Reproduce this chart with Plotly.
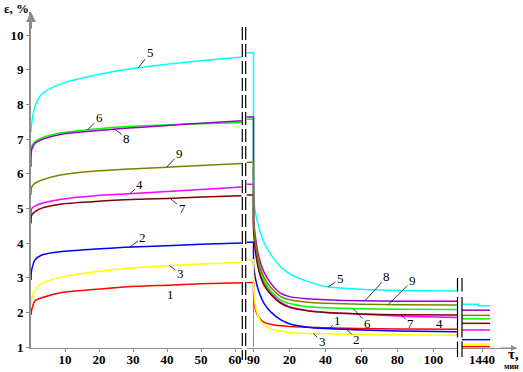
import numpy as np
import plotly.graph_objects as go

# ---------------- data ----------------
T_LOAD = [0, 0.2, 1.2, 3.2, 9, 19, 27.5, 40, 50, 62.5]
T_HOLD = [-10, 0]
T_UNLOAD = [0, 1, 3, 6, 10, 15, 20, 30, 40, 60, 80, 113]
T_DAY = [1420, 1436, 1448]

CURVE_NAMES = ["1", "2", "3", "4", "5", "6", "7", "8", "9"]
CURVE_COLORS = ["#FF0000", "#0000FF", "#FFFF00", "#FF00FF", "#00FFFF",
                "#00FF00", "#800000", "#9900CC", "#808000"]

load_1 = [1.93, 2.08, 2.34, 2.43, 2.58, 2.67, 2.74, 2.79, 2.83, 2.86]
load_2 = [2.94, 3.23, 3.52, 3.66, 3.76, 3.83, 3.88, 3.93, 3.97, 4.01]
load_3 = [2.22, 2.40, 2.65, 2.84, 3.03, 3.18, 3.27, 3.35, 3.40, 3.45]
load_4 = [4.76, 5.00, 5.07, 5.15, 5.27, 5.37, 5.42, 5.49, 5.55, 5.62]
load_5 = [7.20, 7.45, 7.95, 8.30, 8.60, 8.85, 9.00, 9.16, 9.26, 9.37]
load_6 = [6.55, 6.80, 6.93, 7.04, 7.18, 7.29, 7.36, 7.41, 7.44, 7.48]
load_7 = [4.57, 4.81, 4.91, 5.01, 5.13, 5.20, 5.25, 5.29, 5.33, 5.37]
load_8 = [6.20, 6.70, 6.88, 6.99, 7.14, 7.24, 7.31, 7.39, 7.46, 7.53]
load_9 = [5.39, 5.61, 5.73, 5.82, 5.97, 6.08, 6.13, 6.19, 6.24, 6.30]

hold_end = [2.87, 4.03, 3.52, 5.70, 9.49, 7.57, 5.39, 7.64, 6.33]

unload_1 = [2.55, 2.10, 1.86, 1.72, 1.66, 1.62, 1.60, 1.58, 1.56, 1.54, 1.53, 1.52]
unload_2 = [3.40, 3.00, 2.60, 2.25, 2.00, 1.80, 1.68, 1.58, 1.54, 1.50, 1.47, 1.45]
unload_3 = [2.75, 2.20, 1.85, 1.63, 1.52, 1.46, 1.43, 1.40, 1.39, 1.37, 1.36, 1.35]
unload_4 = [4.55, 3.90, 3.30, 2.85, 2.55, 2.30, 2.17, 2.06, 2.01, 1.95, 1.90, 1.86]
unload_5 = [5.30, 4.90, 4.45, 4.00, 3.65, 3.32, 3.12, 2.90, 2.75, 2.67, 2.64, 2.62]
unload_6 = [4.50, 3.95, 3.35, 2.90, 2.60, 2.37, 2.26, 2.17, 2.14, 2.11, 2.10, 2.09]
unload_7 = [4.40, 3.80, 3.20, 2.78, 2.50, 2.27, 2.15, 2.05, 2.00, 1.96, 1.94, 1.93]
unload_8 = [4.70, 4.20, 3.60, 3.15, 2.82, 2.56, 2.46, 2.40, 2.37, 2.34, 2.33, 2.33]
unload_9 = [4.60, 4.05, 3.45, 3.00, 2.70, 2.47, 2.37, 2.30, 2.27, 2.24, 2.23, 2.22]

day_1 = [1.02, 1.02, 1.02]
day_2 = [1.22, 1.22, 1.22]
day_3 = [1.09, 1.09, 1.09]
day_4 = [1.50, 1.50, 1.50]
day_5 = [2.24, 2.20, 2.20]
day_6 = [1.82, 1.82, 1.82]
day_7 = [1.69, 1.69, 1.69]
day_8 = [2.07, 2.07, 2.07]
day_9 = [1.92, 1.92, 1.92]

X1_TICKS = [10, 20, 30, 40, 50, 60]
X2_TICKS = [0, 20, 40, 60, 80, 100]
X2_TICKTEXT = ["90", "20", "40", "60", "80", "100"]
X3_TICKS = [1440]
X3_TICKTEXT = ["1440"]
Y_TICKS = [1, 2, 3, 4, 5, 6, 7, 8, 9, 10]

LOADS = [load_1, load_2, load_3, load_4, load_5, load_6, load_7, load_8, load_9]
UNLOADS = [unload_1, unload_2, unload_3, unload_4, unload_5, unload_6, unload_7, unload_8, unload_9]
DAYS = [day_1, day_2, day_3, day_4, day_5, day_6, day_7, day_8, day_9]

# ---------------- figure ----------------
W, H = 523, 372
ML, MR, MT, MB = 31, 6, 12, 24
PW, PH = W - ML - MR, H - MT - MB
SERIF = "Liberation Serif, Times New Roman, serif"


def px(p):
    return (p - ML) / PW


def py(p):
    return (H - MB - p) / PH


def bold(labels):
    return ["<b>%s</b>" % s for s in labels]


fig = go.Figure()
LW = 1.5
for i in range(9):
    c = CURVE_COLORS[i]
    fig.add_trace(go.Scatter(x=T_LOAD, y=LOADS[i], mode="lines", xaxis="x", yaxis="y",
                             line=dict(color=c, width=LW, shape="spline", smoothing=0.7),
                             hoverinfo="skip"))
    fig.add_trace(go.Scatter(x=[T_HOLD[0], T_HOLD[1], T_HOLD[1]],
                             y=[hold_end[i], hold_end[i], UNLOADS[i][0]],
                             mode="lines", xaxis="x2", yaxis="y",
                             line=dict(color=c, width=LW), hoverinfo="skip"))
    fig.add_trace(go.Scatter(x=T_UNLOAD, y=UNLOADS[i], mode="lines", xaxis="x2", yaxis="y",
                             line=dict(color=c, width=LW, shape="spline", smoothing=0.7),
                             hoverinfo="skip"))
    fig.add_trace(go.Scatter(x=T_DAY, y=DAYS[i], mode="lines", xaxis="x3", yaxis="y",
                             line=dict(color=c, width=LW, shape="hv"), hoverinfo="skip"))

tickfont = dict(family=SERIF, size=13, color="black", weight="bold")
axis_common = dict(showgrid=False, zeroline=False, showline=True, linecolor="#8c8c8c",
                   linewidth=1, ticks="outside", ticklen=3, tickcolor="#8c8c8c",
                   tickfont=tickfont, anchor="y", ticklabelstandoff=-4)

fig.update_layout(
    width=W, height=H, margin=dict(l=ML, r=MR, t=MT, b=MB),
    plot_bgcolor="white", paper_bgcolor="white", showlegend=False,
    xaxis=dict(domain=[0, px(241.5)], range=[0, 61.9], tickvals=X1_TICKS,
               ticktext=bold([str(v) for v in X1_TICKS]), **axis_common),
    xaxis2=dict(domain=[px(246.8), px(457)], range=[-3.72, 113.06], tickvals=X2_TICKS,
                ticktext=bold(X2_TICKTEXT), **axis_common),
    xaxis3=dict(domain=[px(462), 1], range=[1420, 1475], tickvals=X3_TICKS,
                ticktext=bold(X3_TICKTEXT), **axis_common),
    yaxis=dict(domain=[0, 1], range=[0.98, 10.663], tickvals=Y_TICKS,
               ticktext=bold([str(v) for v in Y_TICKS]), anchor="x",
               showgrid=False, zeroline=False, showline=True, linecolor="#8c8c8c",
               linewidth=2, ticks="outside", ticklen=3, tickcolor="#8c8c8c",
               tickfont=tickfont),
)

shapes = []
# break 1: double dashed lines
for xx in (242.3, 245.7):
    shapes.append(dict(type="line", xref="paper", yref="paper", x0=px(xx), x1=px(xx),
                       y0=py(27), y1=py(360), line=dict(color="black", width=1.2, dash="13px,4px")))
# break 2: double solid lines with gaps
for xx in (457.5, 462):
    for (a, b) in ((278, 291.5), (297, 337.5), (341.5, 357)):
        shapes.append(dict(type="line", xref="paper", yref="paper", x0=px(xx), x1=px(xx),
                           y0=py(a), y1=py(b), line=dict(color="black", width=1.2)))
# second-segment vertical axis line at unload start
shapes.append(dict(type="line", xref="x2", yref="y", x0=0, x1=0, y0=1, y1=3,
                   line=dict(color="#8c8c8c", width=1), layer="below"))
fig.update_layout(shapes=shapes)

ann = []
# axis arrows
ann.append(dict(x=0, y=1, xref="paper", yref="paper", ax=0, ay=18, text="", showarrow=True,
                arrowhead=2, arrowsize=1, arrowwidth=2, arrowcolor="#8c8c8c"))
ann.append(dict(x=1, y=0, xref="paper", yref="paper", ax=-18, ay=0, text="", showarrow=True,
                arrowhead=2, arrowsize=1, arrowwidth=1.2, arrowcolor="#8c8c8c"))
# axis titles
ann.append(dict(x=px(2), y=py(8), xref="paper", yref="paper", text="<b>ε, %</b>",
                showarrow=False, xanchor="left", yanchor="middle",
                font=dict(family=SERIF, size=13, color="black")))
ann.append(dict(x=px(513), y=py(354), xref="paper", yref="paper", text="<b>τ,</b>",
                showarrow=False, xanchor="center", yanchor="middle",
                font=dict(family=SERIF, size=15, color="black")))
ann.append(dict(x=px(511), y=py(366), xref="paper", yref="paper", text="<b>мин</b>",
                showarrow=False, xanchor="center", yanchor="middle",
                font=dict(family=SERIF, size=8, color="black")))

labfont = dict(family=SERIF, size=13, color="black")
# (curve index, target time, ax, ay)
load_labels = [(4, 31.5, 12, -15), (5, 16.6, 12, -12), (7, 24.6, 12, 9), (8, 39.9, 13, -14),
               (3, 29.1, 10, -9), (6, 40.9, 12, 10), (1, 29.1, 13, -10), (2, 40.7, 11, 8),
               (0, 37.1, 13, 9)]
for idx, t, dx, dy in load_labels:
    ann.append(dict(x=t, y=float(np.interp(t, T_LOAD, LOADS[idx])), xref="x", yref="y",
                    text=CURVE_NAMES[idx], ax=dx, ay=dy, showarrow=True, arrowhead=0,
                    arrowwidth=0.8, arrowcolor="black", standoff=0, font=labfont))
unload_labels = [(4, 41.6, 12, -8), (7, 61.9, 22, -24), (8, 74.9, 24, -24), (5, 55.4, 14, 15),
                 (6, 81.8, 10, 9), (3, 97.1, 11, 7), (0, 42.5, 8, -7), (1, 51.8, 10, 10),
                 (2, 33.2, 9, 8)]
for idx, t, dx, dy in unload_labels:
    ann.append(dict(x=t, y=float(np.interp(t, T_UNLOAD, UNLOADS[idx])), xref="x2", yref="y",
                    text=CURVE_NAMES[idx], ax=dx, ay=dy, showarrow=True, arrowhead=0,
                    arrowwidth=0.8, arrowcolor="black", standoff=0, font=labfont))
fig.update_layout(annotations=ann)

fig.write_html("out.html", config={"displayModeBar": False},
               post_script="document.body.style.margin='0';document.body.style.padding='0';")
